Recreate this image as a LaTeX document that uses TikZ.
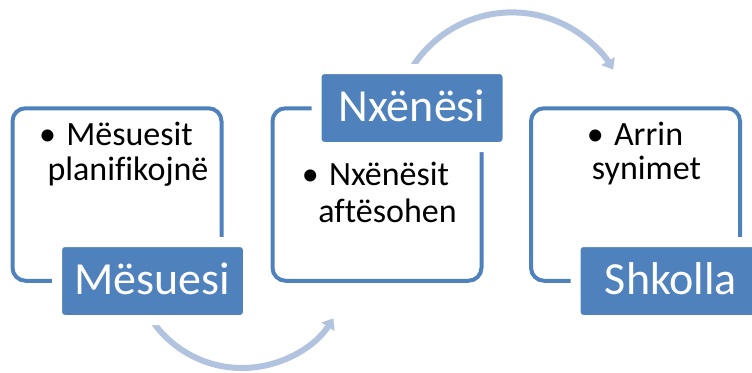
\documentclass[tikz,border=0pt]{standalone}
\usepackage{fontspec}
\setmainfont{Carlito}[Ligatures=NoCommon]
\usetikzlibrary{arrows.meta}
\definecolor{accent}{RGB}{79,129,189}
\definecolor{arrowc}{RGB}{178,195,223}
\begin{document}
\begin{tikzpicture}[x=1pt,y=1pt,
  outline/.style={draw=accent, line width=4pt, rounded corners=13pt, minimum width=209pt, minimum height=172.5pt, inner sep=0pt},
  tag/.style={fill=accent, draw=white, line width=10pt, rounded corners=8pt, minimum width=191pt, minimum height=78pt, inner sep=0pt, text=white, font=\fontsize{46}{50}\selectfont, text height=26pt, text depth=0pt},
  body/.style={font=\fontsize{34}{36}\selectfont, anchor=base, inner sep=0pt},
  flow/.style={draw=arrowc, line width=6pt, -{Triangle[width=15pt,length=10pt]}}]
\useasboundingbox (0,0) rectangle (752,-372);
% outline boxes
\node[outline] (b1) at (117,-194.5) {};
\node[outline] (b2) at (377,-194.5) {};
\node[outline] (b3) at (635.5,-194.5) {};
% arrows
\coordinate (c1) at (242,-259);
\coordinate (c2) at (512,-130.4);
\draw[flow] ([shift={(215:109)}]c1) arc[start angle=215, end angle=327, radius=109];
\draw[flow] ([shift={(148:118)}]c2) arc[start angle=148, end angle=31, radius=118];
% labels
\node[tag] (l1) at (152.5,-281) {Mësuesi};
\node[tag] (l2) at (412,-108) {Nxënësi};
\node[tag] (l3) at (671,-281) {Shkolla};
% body texts
\node[body] (t1a) at (116,-145) {•\hspace{0.3em}Mësuesit};
\node[body] (t1b) at (128,-180.5) {planifikojnë};
\node[body] (t2a) at (375.5,-185) {•\hspace{0.3em}Nxënësit};
\node[body] (t2b) at (387.5,-222) {aftësohen};
\node[body] (t3a) at (635,-145) {•\hspace{0.3em}Arrin};
\node[body] (t3b) at (646.5,-179) {synimet};
\end{tikzpicture}
\end{document}
